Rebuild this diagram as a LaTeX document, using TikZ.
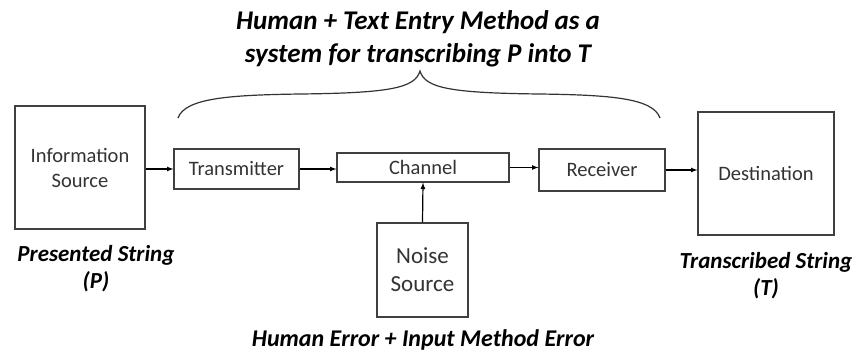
\documentclass[tikz,border=0pt]{standalone}
\usepackage{fontspec}
\setmainfont{Carlito}
\usetikzlibrary{shapes, arrows, positioning}

\tikzset{
  blok/.style={rectangle, draw=black!75, line width=1.2pt, inner sep=0pt,
    align=center, text=black!80, font=\fontsize{20.5}{25}\selectfont},
  etiket/.style={align=center, font=\fontsize{23}{27}\selectfont\bfseries\itshape},
  koptekst/.style={align=center, font=\fontsize{27}{33}\selectfont\bfseries\itshape}
}

\begin{document}
\begin{tikzpicture}[x=1pt, y=-1pt, >=latex, line width=1.2pt]
			\useasboundingbox (0,0) rectangle (857,354);
			\node (info) [blok, minimum width=130pt, minimum height=123pt] at (80,167.5) {Information\\Source};
			\node (trans) [blok, minimum width=125pt, minimum height=40pt] at (236.5,169) {Transmitter};
			\node (chan) [blok, minimum width=172pt, minimum height=29pt] at (423,167.5) {Channel};
			\node (recv) [blok, minimum width=126pt, minimum height=42pt] at (602,170) {Receiver};
			\node (dest) [blok, minimum width=136pt, minimum height=123pt] at (766,173.5) {Destination};
			\node (noise) [blok, minimum width=91pt, minimum height=94pt, font=\fontsize{23}{28}\selectfont] at (422.5,270) {Noise\\Source};
			
			\node (titel) [koptekst] at (418,38.5) {Human + Text Entry Method as a\\system for transcribing P into T};
			\node (pstr) [etiket] at (96,269) {Presented String\\(P)};
			\node (tstr) [etiket] at (766,276) {Transcribed String\\(T)};
			\node (fout) [etiket, font=\fontsize{24}{28}\selectfont\bfseries\itshape] at (423,340) {Human Error + Input Method Error};
			
			\path[->] (info.east |- trans.west) edge (trans.west)
			(trans.east) edge (trans.east -| chan.west)
			(chan.east) edge (chan.east -| recv.west)
			(recv.east) edge (recv.east -| dest.west)
			(noise.north) edge (chan.south);
			
			% accolade
			\draw[black!80] (178,118) .. controls (185,98) and (230,95) .. (300,94)
			.. controls (390,93) and (415,88) .. (420,71)
			.. controls (425,88) and (450,93) .. (540,94)
			.. controls (610,95) and (653,98) .. (660,118);
		\end{tikzpicture}
\end{document}
